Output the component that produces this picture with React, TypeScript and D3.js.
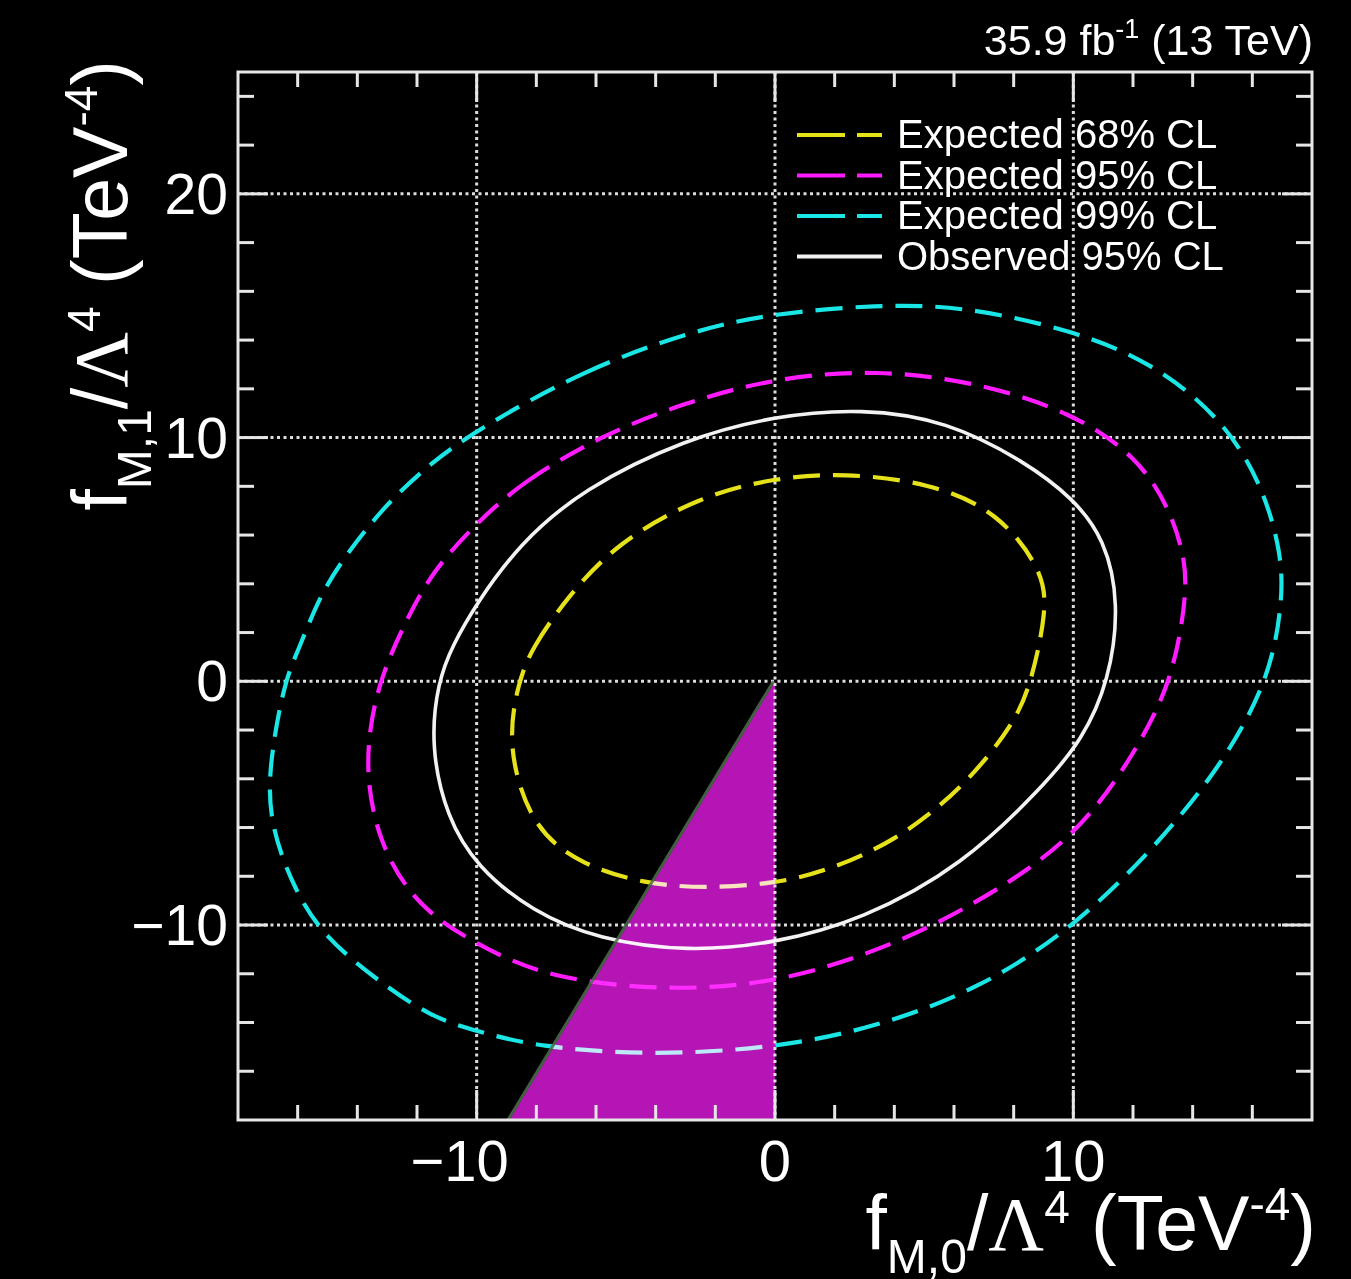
import React from 'react';
import * as d3 from 'd3';

// contour points, (fM0, fM1) in TeV^-4
const exp68: [number, number][] = [
  [-8.6, 0], [-8.15, 1.35], [-7.0, 3.4], [-5.3, 5.7], [-2.5, 7.6], [0, 8.35], [2.3, 8.55],
  [5.2, 8.15], [7.5, 6.95], [9.0, 4.5], [9.1, 2.85], [8.6, 0], [8.05, -1.7], [6.3, -4.4],
  [4.0, -6.6], [1.7, -7.8], [0, -8.3], [-2.4, -8.5], [-4.4, -8.3], [-6.45, -7.55],
  [-8.15, -6.05], [-9.0, -2.65],
];
const exp95: [number, number][] = [
  [-10, 6.5], [-8.5, 8.15], [-5.9, 10.05], [-3.0, 11.45], [0, 12.45], [3.4, 12.8], [6.9, 12.25],
  [10, 11.0], [12.1, 9.25], [13.2, 7.2], [13.8, 4.9], [13.75, 3.1], [13.3, 0], [12.1, -2.9],
  [10, -6.6], [6.3, -9.45], [3.4, -11.1], [0, -12.4], [-3.6, -12.7], [-7.6, -12.2], [-10, -10.8],
  [-11.95, -9.3], [-13.3, -6.7], [-13.8, -3.3], [-13.3, 0], [-12.4, 2.4], [-11.5, 4.5],
];
const exp99: [number, number][] = [
  [-10, 10.3], [-6.4, 12.8], [-2.6, 14.45], [0, 15.1], [3.4, 15.45], [6.3, 15.4], [10, 14.4],
  [12.6, 13.1], [14.9, 10.9], [16.3, 8.2], [17.0, 5.2], [17.0, 3.1], [16.55, 0], [14.9, -3.6],
  [12.6, -7.0], [10, -10.1], [6.9, -12.6], [3.4, -14.2], [0, -15.05], [-4.2, -15.35],
  [-8.0, -15.0], [-10, -14.35], [-11.5, -13.8], [-13.3, -12.3], [-15.1, -10.5], [-16.1, -8.6],
  [-16.9, -6.0], [-17.0, -3.7], [-16.45, 0], [-16.0, 1.2], [-15.3, 3.4], [-14.5, 5.0],
  [-13.1, 7.2], [-11.5, 9.0],
];
const obs95: [number, number][] = [
  [-10, 3.2], [-8.6, 5.6], [-6.45, 7.9], [-3.0, 9.95], [0, 10.9], [2.9, 11.2], [5.75, 10.7],
  [8.4, 9.0], [10, 7.5], [11.05, 5.85], [11.55, 3.2], [11.2, 0], [10.3, -2.4], [9.0, -4.3],
  [6.3, -7.55], [2.9, -9.8], [0, -10.75], [-2.9, -11.1], [-5.9, -10.6], [-8.15, -9.45],
  [-10, -7.6], [-11.0, -5.6], [-11.55, -2.65], [-11.3, 0], [-10.8, 1.5],
];
// unphysical region (filled)
const excluded: [number, number][] = [[0, 0], [-8.9, -18], [0, -18]];

const xMajor = [-10, 0, 10];
const yMajor = [-10, 0, 10, 20];

const contours = [
  { label: 'Expected 68% CL', data: exp68, color: '#e6e21a', dash: '27,13', legDash: '48,12' },
  { label: 'Expected 95% CL', data: exp95, color: '#ff1aff', dash: '27,13', legDash: '48,12' },
  { label: 'Expected 99% CL', data: exp99, color: '#1ae6e6', dash: '27,13', legDash: '48,12' },
  { label: 'Observed 95% CL', data: obs95, color: '#f2f2f2', dash: null, legDash: null },
];

const font = 'Liberation Sans, Arial, Helvetica, sans-serif';

export default function App() {
  const left = 238, right = 1312, top = 72, bottom = 1120;
  const x = d3.scaleLinear().domain([-18, 18]).range([left, right]);
  const y = d3.scaleLinear().domain([-18, 25]).range([bottom, top]);

  const line = d3.line<[number, number]>()
    .x(d => x(d[0]))
    .y(d => y(d[1]))
    .curve(d3.curveBasisClosed);
  const poly = d3.line<[number, number]>().x(d => x(d[0])).y(d => y(d[1]));

  const xMinor = x.ticks(18).filter(t => !xMajor.includes(t) && t > -18 && t < 18);
  const yMinor = y.ticks(21).filter(t => !yMajor.includes(t) && t > -18 && t < 25);
  const axisCol = '#e6e6e6';

  return (
    <svg width={1351} height={1279} style={{ position: 'absolute', left: 0, top: 0, background: '#000' }}>
      <rect x={0} y={0} width={1351} height={1279} fill="#000" />
      <defs>
        <clipPath id="plot"><rect x={left} y={top} width={right - left} height={bottom - top} /></clipPath>
      </defs>

      {/* grid */}
      <g stroke="#dcdcdc" strokeWidth={3} strokeDasharray="3,3.5">
        {xMajor.map(t => <line key={'gx' + t} x1={x(t)} x2={x(t)} y1={top} y2={bottom} />)}
        {yMajor.map(t => <line key={'gy' + t} y1={y(t)} y2={y(t)} x1={left} x2={right} />)}
      </g>

      {/* contours */}
      <g clipPath="url(#plot)" fill="none">
        {contours.map(c => (
          <path key={c.label} d={line(c.data) || ''} stroke={c.color}
            strokeWidth={c.dash ? 4.2 : 3.6} strokeDasharray={c.dash || undefined} />
        ))}
      </g>

      {/* excluded triangle, screen-blended over the curves */}
      <path d={poly(excluded) + 'Z'} fill="#b515b5" style={{ mixBlendMode: 'screen' }} />
      <path d={poly(excluded.slice(0, 2)) || ''} fill="none" stroke="#4f6e4f" strokeWidth={3}
        strokeOpacity={0.85} transform="translate(-1.5,0)" />

      {/* frame and ticks */}
      <g stroke={axisCol} strokeWidth={3}>
        <rect x={left} y={top} width={right - left} height={bottom - top} fill="none" />
        {xMajor.map(t => (
          <g key={'xt' + t}>
            <line x1={x(t)} x2={x(t)} y1={bottom} y2={bottom - 30} />
            <line x1={x(t)} x2={x(t)} y1={top} y2={top + 30} />
          </g>
        ))}
        {xMinor.map(t => (
          <g key={'xm' + t}>
            <line x1={x(t)} x2={x(t)} y1={bottom} y2={bottom - 15} />
            <line x1={x(t)} x2={x(t)} y1={top} y2={top + 15} />
          </g>
        ))}
        {yMajor.map(t => (
          <g key={'yt' + t}>
            <line y1={y(t)} y2={y(t)} x1={left} x2={left + 30} />
            <line y1={y(t)} y2={y(t)} x1={right} x2={right - 30} />
          </g>
        ))}
        {yMinor.map(t => (
          <g key={'ym' + t}>
            <line y1={y(t)} y2={y(t)} x1={left} x2={left + 16} />
            <line y1={y(t)} y2={y(t)} x1={right} x2={right - 16} />
          </g>
        ))}
      </g>

      {/* tick labels */}
      <g fill="#fff" fontFamily={font}>
        {xMajor.map(t => (
          <text key={'xl' + t} x={x(t)} y={1181} fontSize={58} textAnchor="middle" dx={t < 0 ? -17 : 0}>
            {t < 0 ? '\u2212' + Math.abs(t) : t}
          </text>
        ))}
        {yMajor.map(t => (
          <text key={'yl' + t} x={228} y={y(t)} dy={20} fontSize={57} textAnchor="end">
            {t < 0 ? '\u2212' + Math.abs(t) : t}
          </text>
        ))}
      </g>

      {/* axis titles */}
      <text x={1316} y={1250} textAnchor="end" fontSize={77} fill="#fff" fontFamily={font}>
        f<tspan fontSize={48} dy={23}>M,0</tspan>
        <tspan dy={-23}>/</tspan>
        <tspan fontFamily="Liberation Serif, Times New Roman, serif">Λ</tspan>
        <tspan fontSize={46} dy={-27}>4</tspan>
        <tspan dy={27}> (TeV</tspan>
        <tspan fontSize={46} dy={-30}>-4</tspan>
        <tspan dy={30}>)</tspan>
      </text>
      <text transform="translate(127,60) rotate(-90)" textAnchor="end" fontSize={77} fill="#fff" fontFamily={font}>
        f<tspan fontSize={48} dy={24}>M,1</tspan>
        <tspan dy={-24}>/</tspan>
        <tspan fontFamily="Liberation Serif, Times New Roman, serif">Λ</tspan>
        <tspan fontSize={46} dy={-27}>4</tspan>
        <tspan dy={27}> (TeV</tspan>
        <tspan fontSize={46} dy={-30}>-4</tspan>
        <tspan dy={30}>)</tspan>
      </text>

      {/* lumi label */}
      <text x={1313} y={55} textAnchor="end" fontSize={43} fill="#fff" fontFamily={font}>
        35.9 fb<tspan fontSize={27} dy={-17}>-1</tspan><tspan dy={17}> (13 TeV)</tspan>
      </text>

      {/* legend */}
      <g fontFamily={font} fontSize={40}>
        {contours.map((c, i) => {
          const ly = 148 + i * 40.5;
          return (
            <g key={'lg' + c.label}>
              <line x1={797} x2={882} y1={ly - 13} y2={ly - 13} stroke={c.color} strokeWidth={4}
                strokeDasharray={c.legDash || undefined} />
              <text x={897} y={ly} fill="#fff" stroke="#000" strokeWidth={3} paintOrder="stroke">{c.label}</text>
            </g>
          );
        })}
      </g>
    </svg>
  );
}
